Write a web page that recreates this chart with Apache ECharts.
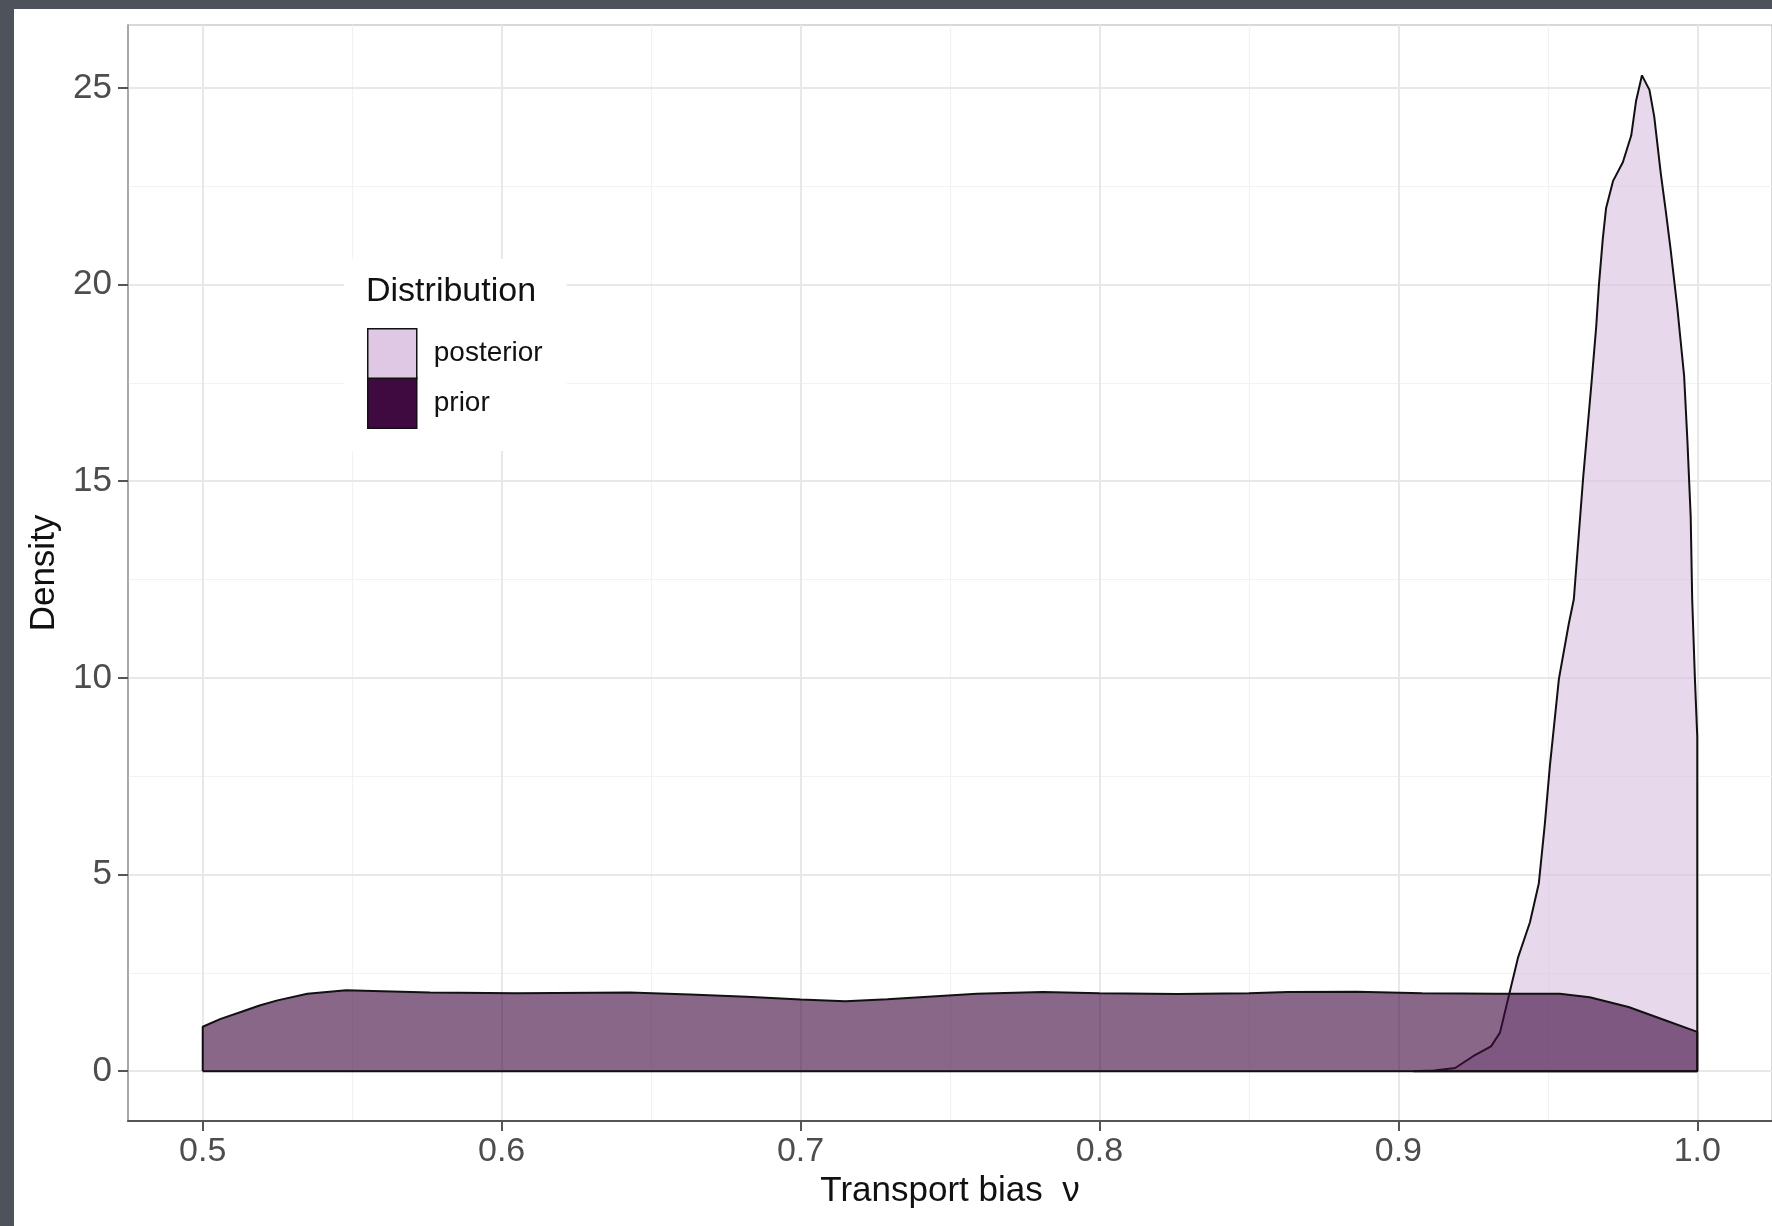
<!DOCTYPE html>
<html>
<head>
<meta charset="utf-8">
<script src="https://cdn.jsdelivr.net/npm/echarts@6/dist/echarts.min.js"></script>
<style>
  html, body { margin: 0; padding: 0; width: 1772px; height: 1226px; background: #4e535b; overflow: hidden; }
  #chart { position: absolute; left: 14px; top: 9px; width: 1758px; height: 1217px; background: #ffffff; }
</style>
</head>
<body>
<div id="chart"></div>
<script>
// ---- data ----
const seriesNames = ['posterior', 'prior'];

const priorX = [0.500, 0.506, 0.513, 0.519, 0.525, 0.535, 0.548, 0.557, 0.576, 0.605, 0.643, 0.663, 0.682, 0.700, 0.715, 0.729, 0.744, 0.759, 0.781, 0.800, 0.826, 0.850, 0.863, 0.886, 0.908, 0.933, 0.954, 0.964, 0.977, 0.989, 1.000];
const priorY = [1.13, 1.33, 1.51, 1.67, 1.80, 1.97, 2.06, 2.04, 2.00, 1.98, 2.00, 1.95, 1.89, 1.82, 1.78, 1.83, 1.90, 1.97, 2.01, 1.98, 1.96, 1.98, 2.01, 2.02, 1.98, 1.97, 1.97, 1.88, 1.63, 1.30, 1.00];

const postX = [0.905, 0.912, 0.919, 0.925, 0.931, 0.934, 0.937, 0.940, 0.944, 0.947, 0.949, 0.9507, 0.9537, 0.957, 0.9587, 0.9618, 0.9646, 0.9662, 0.9671, 0.9684, 0.9695, 0.9718, 0.9751, 0.9779, 0.9795, 0.9815, 0.984, 0.9856, 0.9878, 0.9895, 0.9911, 0.9933, 0.9956, 0.9967, 0.9978, 0.9983, 0.9992, 1.000];
const postY = [0, 0.02, 0.08, 0.38, 0.63, 0.98, 1.93, 2.88, 3.78, 4.78, 6.28, 7.77, 9.97, 11.37, 12.0, 15.07, 17.49, 18.94, 20.0, 21.17, 21.95, 22.63, 23.11, 23.79, 24.66, 25.32, 24.95, 24.27, 22.82, 21.85, 20.88, 19.43, 17.68, 16.03, 14.1, 12.0, 10.0, 8.5];

const xTicks = [0.5, 0.6, 0.7, 0.8, 0.9, 1.0];
const xMinor = [0.55, 0.65, 0.75, 0.85, 0.95];
const yTicks = [0, 5, 10, 15, 20, 25];
const yMinor = [2.5, 7.5, 12.5, 17.5, 22.5];

// ---- build closed density polygons (outline incl. baseline, like geom_density) ----
function polygon(xs, ys) {
  const pts = [[xs[0], 0]];
  for (let i = 0; i < xs.length; i++) pts.push([xs[i], ys[i]]);
  pts.push([xs[xs.length - 1], 0]);
  pts.push([xs[0], 0]);
  return pts;
}

const FONT = '"Liberation Sans", Arial, sans-serif';
const gridMarks = [];
xMinor.forEach(v => gridMarks.push({ xAxis: v, lineStyle: { color: '#f2f2f2', width: 1.2, type: 'solid' } }));
yMinor.forEach(v => gridMarks.push({ yAxis: v, lineStyle: { color: '#f2f2f2', width: 1.2, type: 'solid' } }));
xTicks.forEach(v => gridMarks.push({ xAxis: v, lineStyle: { color: '#e8e8e8', width: 2, type: 'solid' } }));
yTicks.forEach(v => gridMarks.push({ yAxis: v, lineStyle: { color: '#e8e8e8', width: 2, type: 'solid' } }));

const chart = echarts.init(document.getElementById('chart'), null, { renderer: 'canvas' });
chart.setOption({
  animation: false,
  backgroundColor: '#ffffff',
  title: {
    text: 'Distribution',
    left: 352, top: 266,
    padding: 0, z: 10,
    textStyle: { fontFamily: FONT, fontSize: 34, fontWeight: 'normal', color: '#111111' }
  },
  legend: {
    orient: 'vertical',
    left: 330, top: 250,
    padding: [69, 24, 22, 23],
    backgroundColor: '#ffffff',
    itemWidth: 49, itemHeight: 50, itemGap: -2,
    icon: 'rect', z: 8,
    textStyle: { fontFamily: FONT, fontSize: 28, color: '#111111', padding: [0, 0, 0, 12] },
    data: [
      { name: 'posterior', itemStyle: { color: '#dfc8e4', borderColor: '#111111', borderWidth: 1.5 } },
      { name: 'prior', itemStyle: { color: '#3e0a40', borderColor: '#111111', borderWidth: 1.5 } }
    ]
  },
  grid: {
    left: 114, top: 16, width: 1648, height: 1096,
    show: true, borderColor: '#cccccc', borderWidth: 1.5, backgroundColor: '#ffffff'
  },
  xAxis: {
    type: 'value', min: 0.475, max: 1.025,
    name: 'Transport bias  ν', nameLocation: 'middle', nameGap: 50,
    nameTextStyle: { fontFamily: FONT, fontSize: 35, color: '#111111' },
    axisLine: { show: true, onZero: false, lineStyle: { color: '#555555', width: 2 } },
    axisTick: { show: true, customValues: xTicks, length: 10, lineStyle: { color: '#555555', width: 2 } },
    axisLabel: { customValues: xTicks, formatter: v => v.toFixed(1), fontFamily: FONT, fontSize: 34, color: '#4d4d4d', margin: 14 },
    splitLine: { show: false }
  },
  yAxis: {
    type: 'value', min: -1.267, max: 26.6,
    name: 'Density', nameLocation: 'middle', nameGap: 64, nameRotate: 90,
    nameTextStyle: { fontFamily: FONT, fontSize: 35, color: '#111111' },
    axisLine: { show: true, onZero: false, lineStyle: { color: '#999999', width: 1.5 } },
    axisTick: { show: true, customValues: yTicks, length: 10, lineStyle: { color: '#555555', width: 2 } },
    axisLabel: { customValues: yTicks, fontFamily: FONT, fontSize: 35, color: '#4d4d4d', margin: 16 },
    splitLine: { show: false }
  },
  series: [
    {
      name: '_grid', type: 'line', data: [], z: 0, silent: true,
      markLine: { silent: true, z: 0, symbol: ['none', 'none'], label: { show: false }, animation: false, data: gridMarks }
    },
    {
      name: seriesNames[0], type: 'line', z: 2,
      data: polygon(postX, postY),
      showSymbol: false, smooth: false,
      lineStyle: { color: '#111111', width: 2 },
      itemStyle: { color: '#dfc8e4' },
      areaStyle: { color: 'rgba(216,190,222,0.6)', opacity: 1 }
    },
    {
      name: seriesNames[1], type: 'line', z: 3,
      data: polygon(priorX, priorY),
      showSymbol: false, smooth: false,
      lineStyle: { color: '#111111', width: 2 },
      itemStyle: { color: '#3e0a40' },
      areaStyle: { color: 'rgba(63,10,64,0.62)', opacity: 1 }
    }
  ]
});
</script>
</body>
</html>
